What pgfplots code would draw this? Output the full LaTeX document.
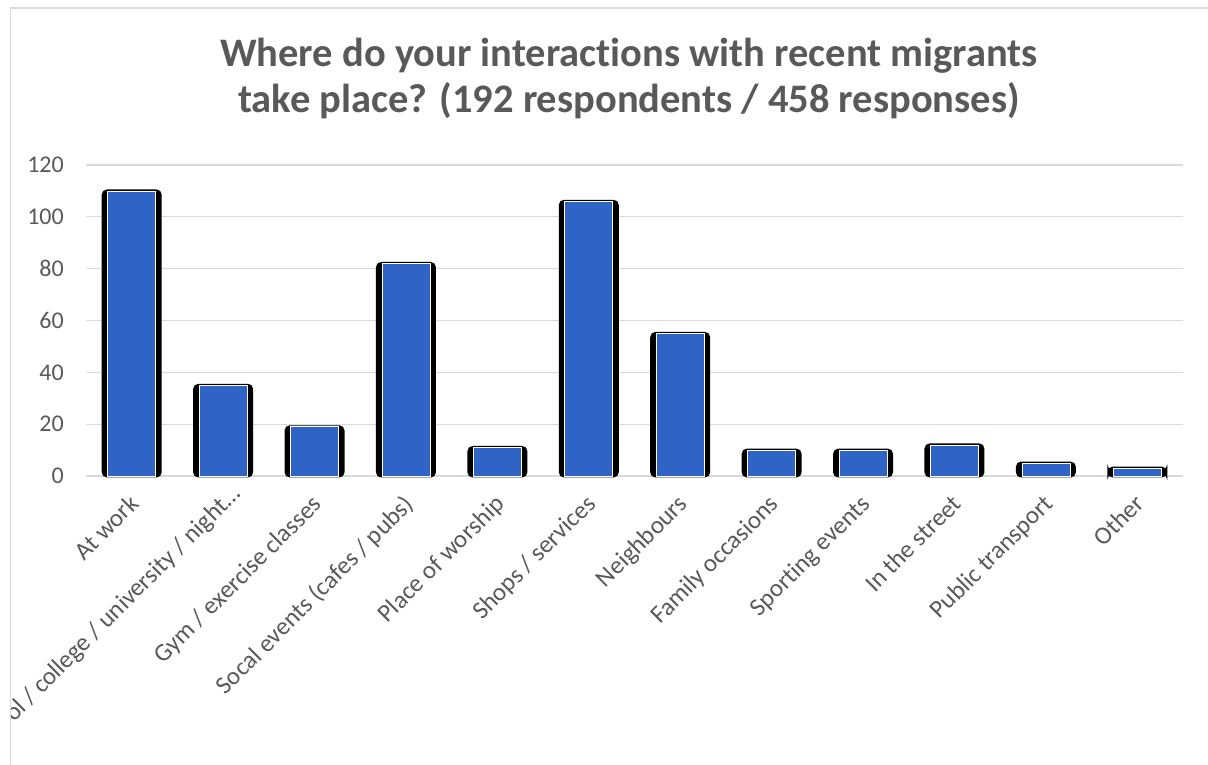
\documentclass[border=0pt]{standalone}
\usepackage{pgfplots}
\usepackage{pgfplotstable}
\pgfplotsset{compat=1.18}
\usepackage{fontspec}
\setmainfont{Carlito}[Ligatures=NoCommon]
\definecolor{txt}{HTML}{595959}
\definecolor{gridc}{HTML}{D9D9D9}
\definecolor{barB}{HTML}{2F64C6}
\pgfplotstableread{
x y
0 110
1 35
2 19
3 82
4 11
5 106
6 55
7 10
8 10
9 12
10 5
11 3
}\data
\begin{document}
\begin{tikzpicture}[x=1pt,y=1pt]
\useasboundingbox (0,0) rectangle (1208,765);
\fill[white] (0,0) rectangle (1208,765);
\begin{scope}
\clip (10.5,0) rectangle (1208,757);
\begin{axis}[at={(86pt,289pt)}, anchor=south west, scale only axis,
  width=1097pt, height=311pt,
  xmin=-0.5, xmax=11.5, ymin=0, ymax=120,
  ytick={0,20,...,120}, xtick={0,...,11},
  xticklabels={At work, School / college / university / night…\kern-14pt\relax, Gym / exercise classes, Socal events (cafes / pubs), Place of worship, Shops / services, Neighbours, Family occasions, Sporting events, In the street, Public transport, Other},
  ymajorgrids, grid style={gridc, line width=1.3pt},
  axis line style={draw=none}, major tick length=0pt,
  /pgf/number format/assume math mode=true,
  tick label style={text=txt, font=\fontsize{24}{28}\selectfont},
  yticklabel style={anchor=east, inner sep=0pt, xshift=-22pt},
  xticklabel style={rotate=45, anchor=north east, inner sep=0pt, xshift=-14.8pt, yshift=-9.2pt, font=\fontsize{25}{29}\selectfont},
  clip=false]
\addplot[ybar, bar width=57pt, bar shift=0pt, fill=black, draw=black, line width=3pt, rounded corners=4pt] table[x=x,y=y] {\data};
\addplot[ybar, bar width=48pt, bar shift=0pt, fill=barB, draw=white, line width=0.6pt] table[x=x,y=y] {\data};
\end{axis}
\end{scope}
\draw[gridc, line width=1.5pt] (10.5,0) -- (10.5,757) -- (1208,757);
\node[anchor=base, text=txt, font=\bfseries\fontsize{40.5}{48}\selectfont] at (629,698) {Where do your interactions with recent migrants};
\node[anchor=base, text=txt, font=\bfseries\fontsize{40.5}{48}\selectfont] at (629,652) {take place? (192 respondents / 458 responses)};
\end{tikzpicture}
\end{document}
